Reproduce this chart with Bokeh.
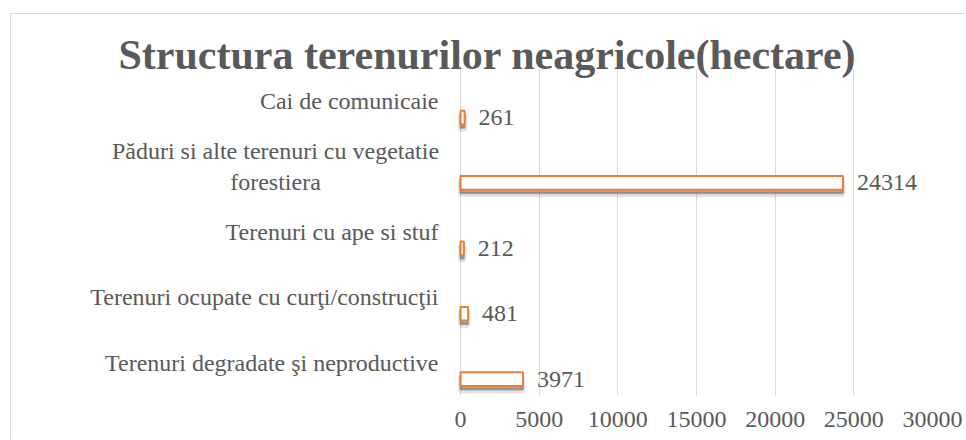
from bokeh.plotting import figure
from bokeh.models import Range1d, FixedTicker, ColumnDataSource
from bokeh.transform import dodge
from bokeh.core.properties import value
from bokeh.embed import file_html
from bokeh.resources import INLINE

# ---- data (top-to-bottom order as shown) ----
categories = [
    "Cai de comunicaie",
    "Păduri si alte terenuri cu vegetatie forestiera",
    "Terenuri cu ape si stuf",
    "Terenuri ocupate cu curţi/construcţii",
    "Terenuri degradate şi neproductive",
]
category_labels = [
    "Cai de comunicaie",
    "Păduri si alte terenuri cu vegetatie\nforestiera",
    "Terenuri cu ape si stuf",
    "Terenuri ocupate cu curţi/construcţii",
    "Terenuri degradate şi neproductive",
]
values = [261, 24314, 212, 481, 3971]
x_ticks = [0, 5000, 10000, 15000, 20000, 25000, 30000]
title_text = "Structura terenurilor neagricole(hectare)"

FONT = "Liberation Serif"
TEXT = "#595959"
ORANGE = "#ED7D31"
GRID = "#d9d9d9"

# layout (pixels)
W, H = 955, 426
LABEL_PX = 449          # width of the category-label zone inside the frame
PLOT_PX = 472           # width of the value zone (0 .. max tick)
RIGHT_PX = W - LABEL_PX - PLOT_PX
LABEL_GAP = 22
WRAP_HALF = 163         # half width of the wrapped label's longest line

source = ColumnDataSource(dict(
    cat=categories,
    val=values,
    lab=[str(v) for v in values],
))
single = [(c, t) for c, t in zip(categories, category_labels) if "\n" not in t]
multi = [(c, t) for c, t in zip(categories, category_labels) if "\n" in t]
single_src = ColumnDataSource(dict(cat=[c for c, _ in single], txt=[t for _, t in single],
                                   zero=[0] * len(single)))
multi_src = ColumnDataSource(dict(cat=[c for c, _ in multi], txt=[t for _, t in multi],
                                  zero=[0] * len(multi)))

x_end = x_ticks[-1]
x_start = -x_end * LABEL_PX / PLOT_PX

p = figure(
    width=W, height=H,
    y_range=categories[::-1],
    x_range=Range1d(x_start, x_end),
    output_backend="svg", toolbar_location=None,
    min_border_left=0, min_border_right=RIGHT_PX,
    min_border_top=54, min_border_bottom=45,
)
p.margin = (13, 0, 0, 10)
p.styles = {"border-left": "1px solid #d9d9d9", "border-top": "1px solid #d9d9d9"}
p.outline_line_color = None
p.background_fill_color = "white"
p.border_fill_color = "white"

BAR_OFF = -0.25
BAR_H = 0.21

# soft shadow
p.hbar(y=dodge("cat", BAR_OFF - 0.075, range=p.y_range), left=0, right="val", height=BAR_H,
       source=source, fill_color="#7f7f7f", fill_alpha=0.2,
       line_color="#7f7f7f", line_alpha=0.2, line_width=5)
p.hbar(y=dodge("cat", BAR_OFF - 0.05, range=p.y_range), left=0, right="val", height=BAR_H,
       source=source, fill_color="#7f7f7f", fill_alpha=0.6,
       line_color="#7f7f7f", line_alpha=0.6, line_width=2)
# bars
p.hbar(y=dodge("cat", BAR_OFF, range=p.y_range), left=0, right="val", height=BAR_H,
       source=source, fill_color="white", line_color=ORANGE, line_width=2)

# data labels
p.text(x="val", y=dodge("cat", BAR_OFF, range=p.y_range), text="lab", source=source,
       x_offset=14, text_baseline="middle", text_align="left",
       text_font=value(FONT), text_font_size="24px", text_color=TEXT)

# category labels
p.text(x="zero", y="cat", text="txt", source=single_src,
       x_offset=-LABEL_GAP, text_baseline="middle", text_align="right",
       text_font=value(FONT), text_font_size="24px", text_color=TEXT)
p.text(x="zero", y="cat", text="txt", source=multi_src,
       x_offset=-(LABEL_GAP + WRAP_HALF), text_baseline="middle", text_align="center",
       text_font=value(FONT), text_font_size="24px", text_color=TEXT)

# axes
p.yaxis.visible = False
p.xaxis.ticker = FixedTicker(ticks=x_ticks)
p.xaxis.axis_line_color = None
p.xaxis.major_tick_line_color = None
p.xaxis.minor_tick_line_color = None
p.xaxis.major_tick_out = 0
p.xaxis.major_tick_in = 0
p.xaxis.major_label_text_font = FONT
p.xaxis.major_label_text_font_size = "24px"
p.xaxis.major_label_text_color = TEXT
p.xaxis.major_label_standoff = 16

p.ygrid.grid_line_color = None
p.xgrid.grid_line_color = GRID
p.xgrid.grid_line_width = 1

# title
p.title.text = title_text
p.title.align = "left"
p.title.offset = 107
p.title.standoff = -18
p.title.text_font = FONT
p.title.text_font_style = "bold"
p.title.text_font_size = "42px"
p.title.text_color = TEXT

open("out.html", "w").write(file_html(p, INLINE))
